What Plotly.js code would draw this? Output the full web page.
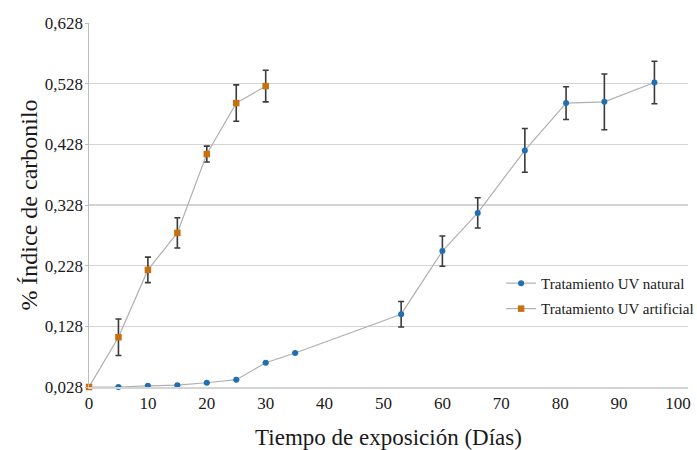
<!DOCTYPE html>
<html>
<head>
<meta charset="utf-8">
<script src="https://cdn.plot.ly/plotly-3.0.1.min.js"></script>
<style>html,body{margin:0;padding:0;background:#fff;}#chart{width:697px;height:450px;}</style>
</head>
<body>
<div id="chart"></div>
<script>
// Tratamiento UV natural
const naturalDays = [0, 5, 10, 15, 20, 25, 30, 35, 53, 60, 66, 74, 81, 87.5, 96];
const naturalIndex = [0.028, 0.028, 0.030, 0.031, 0.035, 0.040, 0.068, 0.084, 0.148, 0.252, 0.315, 0.418, 0.496, 0.498, 0.530];
const naturalErr = [0, 0, 0, 0, 0, 0, 0, 0, 0.021, 0.025, 0.025, 0.036, 0.027, 0.046, 0.035];

// Tratamiento UV artificial
const artificialDays = [0, 5, 10, 15, 20, 25, 30];
const artificialIndex = [0.028, 0.110, 0.221, 0.282, 0.412, 0.496, 0.524];
const artificialErr = [0, 0.030, 0.021, 0.025, 0.013, 0.030, 0.026];

const seriesNames = ['Tratamiento UV natural', 'Tratamiento UV artificial'];
const yTickVals = [0.028, 0.128, 0.228, 0.328, 0.428, 0.528, 0.628];
const yTickText = ['0,028', '0,128', '0,228', '0,328', '0,428', '0,528', '0,628'];
const xTickVals = [0, 10, 20, 30, 40, 50, 60, 70, 80, 90, 100];

const serif = '"Liberation Serif", "Times New Roman", serif';

const errStyle = {type: 'data', visible: true, color: '#3a3a3a', thickness: 1.6, width: 3};

const traces = [
  {
    x: naturalDays, y: naturalIndex, name: seriesNames[0], legendgroup: 'a',
    type: 'scatter', mode: 'lines+markers', cliponaxis: false,
    line: {color: '#b0b0b0', width: 1.2},
    marker: {symbol: 'circle', size: 6, color: '#1f6fb2'},
    error_y: Object.assign({array: naturalErr}, errStyle)
  },
  {
    x: artificialDays, y: artificialIndex, name: seriesNames[1], legendgroup: 'b',
    type: 'scatter', mode: 'lines+markers', cliponaxis: false,
    line: {color: '#b0b0b0', width: 1.2},
    marker: {symbol: 'square', size: 6.5, color: '#c8700e'},
    error_y: Object.assign({array: artificialErr}, errStyle)
  }
];

const layout = {
  width: 697, height: 450,
  margin: {l: 89, r: 9, t: 23, b: 63, autoexpand: false},
  paper_bgcolor: '#ffffff', plot_bgcolor: '#ffffff',
  font: {family: serif, color: '#1a1a1a', size: 17},
  showlegend: true,
  legend: {
    x: 0.688, y: 0.33, xanchor: 'left', yanchor: 'top',
    bgcolor: 'rgba(255,255,255,0)', tracegroupgap: 3,
    font: {family: serif, size: 15, color: '#1a1a1a'}
  },
  xaxis: {
    range: [0, 101.7], tickvals: xTickVals, ticktext: xTickVals.map(String),
    showgrid: false, zeroline: false, showline: true, linecolor: '#d4d4d4', linewidth: 1.5, ticks: '',
    tickfont: {family: serif, size: 17, color: '#1a1a1a'},
    title: {text: 'Tiempo de exposición (Días)', font: {family: serif, size: 23, color: '#1a1a1a'}, standoff: 18}
  },
  yaxis: {
    range: [0.028, 0.628], tickvals: yTickVals, ticktext: yTickText,
    showgrid: true, gridcolor: '#d4d4d4', gridwidth: 1.5,
    zeroline: false, showline: true, linecolor: '#bdbdbd', linewidth: 1.5,
    ticks: 'outside', ticklen: 3, tickcolor: '#bdbdbd', ticklabelstandoff: -2,
    tickfont: {family: serif, size: 17, color: '#1a1a1a'},
    title: {text: '% Índice de carbonilo', font: {family: serif, size: 24, color: '#1a1a1a'}, standoff: 0}
  }
};

Plotly.newPlot('chart', traces, layout, {displayModeBar: false, staticPlot: true});
</script>
</body>
</html>
